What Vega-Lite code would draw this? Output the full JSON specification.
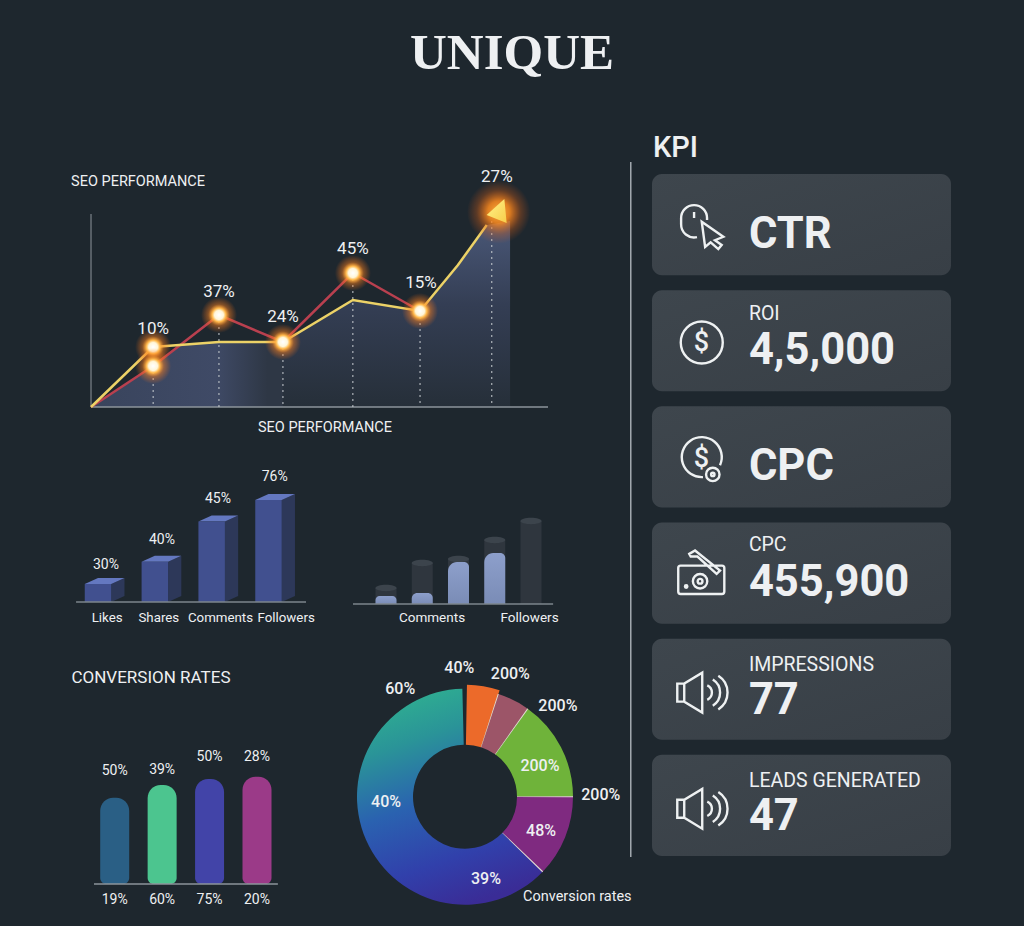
{"$schema":"https://vega.github.io/schema/vega-lite/v6.json","width":1024,"height":926,"padding":0,"autosize":{"type":"fit","contains":"padding"},"background":"#1e272e",
"config":{"view":{"stroke":null},"axis":{"disable":true},"scale":{"continuousPadding":0},"text":{"font":"Roboto","color":"#eef0f2","align":"center","baseline":"middle","dy":1}},
"datasets":{
"titleText":[{"text":"UNIQUE","x":50,"y":94.3}],
"seoArea":[{"x":0,"y":0,"part":"left"},{"x":13.6,"y":20.5,"part":"left"},{"x":19.8,"y":31,"part":"left"},{"x":28,"y":32.5,"part":"left"},{"x":42,"y":32.5,"part":"left"},{"x":42,"y":32.5,"part":"right"},{"x":57,"y":53.5,"part":"right"},{"x":72,"y":48,"part":"right"},{"x":80.3,"y":71,"part":"right"},{"x":86.6,"y":91,"part":"right"},{"x":91.7,"y":93,"part":"right"}],
"seoLines":[{"x":0,"y":0,"series":"red"},{"x":13.6,"y":20.5,"series":"red"},{"x":28,"y":46,"series":"red"},{"x":42,"y":32.5,"series":"red"},{"x":57.3,"y":67,"series":"red"},{"x":72,"y":48,"series":"red"},{"x":0,"y":0,"series":"yellow"},{"x":13.6,"y":30,"series":"yellow"},{"x":28,"y":32.5,"series":"yellow"},{"x":42,"y":32.5,"series":"yellow"},{"x":57.3,"y":53.5,"series":"yellow"},{"x":72,"y":48,"series":"yellow"},{"x":80.3,"y":71,"series":"yellow"},{"x":86.6,"y":91,"series":"yellow"}],
"seoDrops":[{"x":13.6,"y":20.5},{"x":28,"y":46},{"x":42,"y":32.5},{"x":57.3,"y":67},{"x":72,"y":48},{"x":87.7,"y":93}],
"seoMarkers":[{"x":13.6,"y":30},{"x":13.6,"y":20.5},{"x":28,"y":46},{"x":42,"y":32.5},{"x":57.3,"y":67},{"x":72,"y":48}],
"seoPeak":[{"x":89.2,"y":97.5}],
"seoLabels":[{"text":"10%","x":13.6,"y":39.5},{"text":"37%","x":28,"y":58},{"text":"24%","x":42,"y":45.5},{"text":"45%","x":57.3,"y":79.5},{"text":"15%","x":72.2,"y":62.7},{"text":"27%","x":88.8,"y":115.7}],
"seoTitles":[{"text":"SEO PERFORMANCE","x":10.3,"y":113},{"text":"SEO PERFORMANCE","x":51.2,"y":-10}],
"socialBars":[{"cat":"Likes","pos":0,"value":15},{"cat":"Shares","pos":1,"value":33.6},{"cat":"Comments","pos":2,"value":67},{"cat":"Followers","pos":3,"value":85}],
"socialPercents":[{"text":"30%","x":0.14,"y":31.7},{"text":"40%","x":1.126,"y":52.5},{"text":"45%","x":2.11,"y":87},{"text":"76%","x":3.11,"y":105}],
"socialNames":[{"text":"Likes","x":0.16,"y":-12.5},{"text":"Shares","x":1.07,"y":-12.5},{"text":"Comments","x":2.155,"y":-12.5},{"text":"Followers","x":3.31,"y":-12.5}],
"cylinders":[{"pos":0,"track":16,"fill":8},{"pos":1,"track":41,"fill":11},{"pos":2,"track":45,"fill":42},{"pos":3,"track":64,"fill":51},{"pos":4,"track":83,"fill":0}],
"cylinderLabels":[{"text":"Comments","x":1.27,"y":-13},{"text":"Followers","x":3.96,"y":-13}],
"conversionBars":[{"group":"A","pos":0,"value":57.5},{"group":"B","pos":1,"value":66},{"group":"C","pos":2,"value":70},{"group":"D","pos":3,"value":71.5}],
"conversionLabels":[{"text":"50%","x":0,"y":76},{"text":"39%","x":1,"y":76.9},{"text":"50%","x":2,"y":85.3},{"text":"28%","x":3,"y":85.3},{"text":"19%","x":0,"y":-10},{"text":"60%","x":1,"y":-10},{"text":"75%","x":2,"y":-10},{"text":"20%","x":3,"y":-10}],
"conversionTitle":[{"text":"CONVERSION RATES","x":0.765,"y":138}],
"donut":[{"slice":"mauve","from":18,"to":35.5},{"slice":"green","from":35.5,"to":90},{"slice":"purple","from":90,"to":134}],
"donutBlue":[{"slice":"blue","from":134,"to":358.6}],
"donutOrange":[{"slice":"orange","from":1,"to":18}],
"donutSeparators":[{"from":17.7,"to":18.2},{"from":35.2,"to":35.8},{"from":89.7,"to":90.3},{"from":133.7,"to":134.3}],
"donutLabels":[{"text":"40%","x":-0.053,"y":1.2},{"text":"200%","x":0.42,"y":1.149},{"text":"60%","x":-0.6,"y":1.01},{"text":"200%","x":0.86,"y":0.846},{"text":"200%","x":0.694,"y":0.293},{"text":"200%","x":1.257,"y":0.025},{"text":"48%","x":0.704,"y":-0.31},{"text":"40%","x":-0.731,"y":-0.037},{"text":"39%","x":0.194,"y":-0.751}],
"donutNote":[{"text":"Conversion rates","x":1.04,"y":-0.92}],
"kpiHeading":[{"text":"KPI","x":0.33,"y":102.15}],
"kpiDivider":[{"x":-7.1}],
"kpiCards":[{"card":1,"value":"CTR","icon":"mouse"},{"card":2,"name":"ROI","value":"4,5,000","icon":"dollar"},{"card":3,"value":"CPC","icon":"coin"},{"card":4,"name":"CPC","value":"455,900","icon":"money"},{"card":5,"name":"IMPRESSIONS","value":"77","icon":"speaker"},{"card":6,"name":"LEADS GENERATED","value":"47","icon":"speaker"}]
},
"resolve":{"scale":{"x":"independent","y":"independent","color":"independent"}},
"layer":[
{"data":{"name":"titleText"},"mark":{"type":"text","font":"Liberation Serif","fontWeight":"bold","fontSize":51},"encoding":{"x":{"field":"x","type":"quantitative","scale":{"domain":[0,100],"range":[0,1024]}},"y":{"field":"y","type":"quantitative","scale":{"domain":[0,100],"range":[926,0]}},"text":{"field":"text"}}},

{"layer":[
{"data":{"name":"seoArea"},"transform":[{"filter":"datum.part=='left'"}],"mark":{"type":"area","fill":{"gradient":"linear","x1":0,"y1":0,"x2":1,"y2":0,"stops":[{"offset":0,"color":"#39445c"},{"offset":0.65,"color":"#3f4a66"},{"offset":0.92,"color":"#2e3745"},{"offset":1,"color":"#2e3745"}]}},"encoding":{"x":{"field":"x","type":"quantitative","scale":{"domain":[0,100],"range":[91,548]}},"y":{"field":"y","type":"quantitative","stack":null,"scale":{"domain":[0,100],"range":[407,207]}}}},
{"data":{"name":"seoArea"},"transform":[{"filter":"datum.part=='right'"}],"mark":{"type":"area","fill":{"gradient":"linear","x1":0,"y1":0,"x2":0,"y2":1,"stops":[{"offset":0,"color":"#4a5878"},{"offset":0.45,"color":"#343e54"},{"offset":1,"color":"#262f39"}]}},"encoding":{"x":{"field":"x","type":"quantitative","scale":{"domain":[0,100],"range":[91,548]}},"y":{"field":"y","type":"quantitative","stack":null,"scale":{"domain":[0,100],"range":[407,207]}}}},
{"data":{"values":[{"axis":"x"}]},"mark":{"type":"rule","color":"#8d959b","strokeWidth":1.5},"encoding":{"x":{"datum":0,"type":"quantitative","scale":{"domain":[0,100],"range":[91,548]}},"x2":{"datum":100},"y":{"datum":0,"type":"quantitative","scale":{"domain":[0,100],"range":[407,207]}}}},
{"data":{"values":[{"axis":"y"}]},"mark":{"type":"rule","color":"#8d959b","strokeWidth":1},"encoding":{"x":{"datum":0,"type":"quantitative","scale":{"domain":[0,100],"range":[91,548]}},"y":{"datum":0,"type":"quantitative","scale":{"domain":[0,100],"range":[407,207]}},"y2":{"datum":96.5}}},
{"data":{"name":"seoDrops"},"mark":{"type":"rule","color":"#c9ced2","strokeWidth":1,"strokeDash":[2,4]},"encoding":{"x":{"field":"x","type":"quantitative","scale":{"domain":[0,100],"range":[91,548]}},"y":{"field":"y","type":"quantitative","scale":{"domain":[0,100],"range":[407,207]}},"y2":{"datum":0}}},
{"data":{"name":"seoLines"},"transform":[{"filter":"datum.series=='red'"}],"mark":{"type":"line","color":"#b9404f","strokeWidth":2.5},"encoding":{"x":{"field":"x","type":"quantitative","scale":{"domain":[0,100],"range":[91,548]}},"y":{"field":"y","type":"quantitative","scale":{"domain":[0,100],"range":[407,207]}}}},
{"data":{"name":"seoLines"},"transform":[{"filter":"datum.series=='yellow'"}],"mark":{"type":"line","color":"#ecd267","strokeWidth":2.5},"encoding":{"x":{"field":"x","type":"quantitative","scale":{"domain":[0,100],"range":[91,548]}},"y":{"field":"y","type":"quantitative","scale":{"domain":[0,100],"range":[407,207]}}}},
{"data":{"name":"seoPeak"},"mark":{"type":"point","filled":true,"shape":"circle","size":4000,"opacity":1,"strokeWidth":0,"fill":{"gradient":"radial","stops":[{"offset":0,"color":"#ffb040"},{"offset":0.35,"color":"rgba(255,140,30,0.85)"},{"offset":0.7,"color":"rgba(230,100,20,0.3)"},{"offset":1,"color":"rgba(230,90,20,0)"}]}},"encoding":{"x":{"field":"x","type":"quantitative","scale":{"domain":[0,100],"range":[91,548]}},"y":{"field":"y","type":"quantitative","scale":{"domain":[0,100],"range":[407,207]}}}},
{"data":{"name":"seoMarkers"},"mark":{"type":"point","filled":true,"shape":"circle","size":1296,"opacity":1,"strokeWidth":0,"fill":{"gradient":"radial","stops":[{"offset":0,"color":"#ffffff"},{"offset":0.25,"color":"#fff6d8"},{"offset":0.38,"color":"#ffb84a"},{"offset":0.6,"color":"rgba(255,130,30,0.45)"},{"offset":1,"color":"rgba(255,110,20,0)"}]}},"encoding":{"x":{"field":"x","type":"quantitative","scale":{"domain":[0,100],"range":[91,548]}},"y":{"field":"y","type":"quantitative","scale":{"domain":[0,100],"range":[407,207]}}}},
{"data":{"name":"seoPeak"},"mark":{"type":"point","filled":true,"size":1024,"opacity":1,"strokeWidth":0,"shape":"M0.356,-0.81L-0.75,0.19L0.5,0.69Z","fill":{"gradient":"linear","x1":0,"y1":0,"x2":1,"y2":1,"stops":[{"offset":0,"color":"#fff48a"},{"offset":1,"color":"#f8cc4a"}]}},"encoding":{"x":{"field":"x","type":"quantitative","scale":{"domain":[0,100],"range":[91,548]}},"y":{"field":"y","type":"quantitative","scale":{"domain":[0,100],"range":[407,207]}}}},
{"data":{"name":"seoLabels"},"mark":{"type":"text","fontSize":17},"encoding":{"x":{"field":"x","type":"quantitative","scale":{"domain":[0,100],"range":[91,548]}},"y":{"field":"y","type":"quantitative","scale":{"domain":[0,100],"range":[407,207]}},"text":{"field":"text"}}},
{"data":{"name":"seoTitles"},"mark":{"type":"text","fontSize":14.5},"encoding":{"x":{"field":"x","type":"quantitative","scale":{"domain":[0,100],"range":[91,548]}},"y":{"field":"y","type":"quantitative","scale":{"domain":[0,100],"range":[407,207]}},"text":{"field":"text"}}}
]},

{"layer":[
{"data":{"name":"socialBars"},"transform":[{"calculate":"[0,1]","as":"k"},{"flatten":["k"]},{"calculate":"datum.pos+0.233+datum.k*0.233","as":"sx"},{"calculate":"datum.value+datum.k*5","as":"sy"},{"calculate":"datum.k*5","as":"sy2"}],"mark":{"type":"area","color":"#2d3859"},"encoding":{"detail":{"field":"cat"},"x":{"field":"sx","type":"quantitative","scale":{"domain":[0,3],"range":[98,268.5]}},"y":{"field":"sy","type":"quantitative","stack":null,"scale":{"domain":[0,100],"range":[602,482]}},"y2":{"field":"sy2"}}},
{"data":{"name":"socialBars"},"transform":[{"calculate":"[0,1]","as":"k"},{"flatten":["k"]},{"calculate":"datum.pos-0.233+datum.k*0.233","as":"tx"},{"calculate":"datum.pos+0.233+datum.k*0.233","as":"tx2"},{"calculate":"datum.value+datum.k*5","as":"ty"}],"mark":{"type":"area","orient":"horizontal","color":"#6478c0"},"encoding":{"detail":{"field":"cat"},"y":{"field":"ty","type":"quantitative","scale":{"domain":[0,100],"range":[602,482]}},"x":{"field":"tx","type":"quantitative","stack":null,"scale":{"domain":[0,3],"range":[98,268.5]}},"x2":{"field":"tx2"}}},
{"data":{"name":"socialBars"},"mark":{"type":"bar","orient":"vertical","width":26.5,"color":"#41508f"},"encoding":{"x":{"field":"pos","type":"quantitative","scale":{"domain":[0,3],"range":[98,268.5]}},"y":{"field":"value","type":"quantitative","scale":{"domain":[0,100],"range":[602,482]}},"y2":{"datum":0}}},
{"data":{"values":[{"axis":"x"}]},"mark":{"type":"rule","color":"#7d868c","strokeWidth":1.5},"encoding":{"x":{"datum":-0.386,"type":"quantitative","scale":{"domain":[0,3],"range":[98,268.5]}},"x2":{"datum":3.66},"y":{"datum":0,"type":"quantitative","scale":{"domain":[0,100],"range":[602,482]}}}},
{"data":{"name":"socialPercents"},"mark":{"type":"text","fontSize":14},"encoding":{"x":{"field":"x","type":"quantitative","scale":{"domain":[0,3],"range":[98,268.5]}},"y":{"field":"y","type":"quantitative","scale":{"domain":[0,100],"range":[602,482]}},"text":{"field":"text"}}},
{"data":{"name":"socialNames"},"mark":{"type":"text","fontSize":13.3},"encoding":{"x":{"field":"x","type":"quantitative","scale":{"domain":[0,3],"range":[98,268.5]}},"y":{"field":"y","type":"quantitative","scale":{"domain":[0,100],"range":[602,482]}},"text":{"field":"text"}}}
]},

{"layer":[
{"data":{"name":"cylinders"},"mark":{"type":"bar","orient":"vertical","width":21,"color":"#2f363e"},"encoding":{"x":{"field":"pos","type":"quantitative","scale":{"domain":[0,4],"range":[386,531]}},"y":{"field":"track","type":"quantitative","scale":{"domain":[0,100],"range":[604,504]}},"y2":{"datum":0}}},
{"data":{"name":"cylinders"},"mark":{"type":"point","filled":true,"size":441,"opacity":1,"strokeWidth":0,"color":"#3c444c","shape":"M-1,0A1,0.3 0 1 1 1,0A1,0.3 0 1 1 -1,0Z"},"encoding":{"x":{"field":"pos","type":"quantitative","scale":{"domain":[0,4],"range":[386,531]}},"y":{"field":"track","type":"quantitative","scale":{"domain":[0,100],"range":[604,504]}}}},
{"data":{"name":"cylinders"},"transform":[{"filter":"datum.fill>0"}],"mark":{"type":"bar","orient":"vertical","width":21,"cornerRadiusTopLeft":9,"cornerRadiusTopRight":5,"fill":{"gradient":"linear","x1":0,"y1":0,"x2":0,"y2":1,"stops":[{"offset":0,"color":"#8d9fcb"},{"offset":1,"color":"#7a8cb6"}]}},"encoding":{"x":{"field":"pos","type":"quantitative","scale":{"domain":[0,4],"range":[386,531]}},"y":{"field":"fill","type":"quantitative","scale":{"domain":[0,100],"range":[604,504]}},"y2":{"datum":0}}},
{"data":{"values":[{"axis":"x"}]},"mark":{"type":"rule","color":"#7d868c","strokeWidth":1.5},"encoding":{"x":{"datum":-0.91,"type":"quantitative","scale":{"domain":[0,4],"range":[386,531]}},"x2":{"datum":4.61},"y":{"datum":0,"type":"quantitative","scale":{"domain":[0,100],"range":[604,504]}}}},
{"data":{"name":"cylinderLabels"},"mark":{"type":"text","fontSize":13.5},"encoding":{"x":{"field":"x","type":"quantitative","scale":{"domain":[0,4],"range":[386,531]}},"y":{"field":"y","type":"quantitative","scale":{"domain":[0,100],"range":[604,504]}},"text":{"field":"text"}}}
]},

{"layer":[
{"data":{"name":"conversionBars"},"mark":{"type":"bar","orient":"vertical","width":29,"cornerRadiusTopLeft":13,"cornerRadiusTopRight":13,"cornerRadiusBottomLeft":6,"cornerRadiusBottomRight":6},"encoding":{"x":{"field":"pos","type":"quantitative","scale":{"domain":[0,3],"range":[114.7,257]}},"y":{"field":"value","type":"quantitative","scale":{"domain":[0,100],"range":[884,734]}},"y2":{"datum":0},"color":{"field":"group","type":"nominal","legend":null,"scale":{"domain":["A","B","C","D"],"range":["#2a5f85","#4cc58f","#4244a8","#9b3a88"]}}}},
{"data":{"values":[{"axis":"x"}]},"mark":{"type":"rule","color":"#8d959b","strokeWidth":1.5},"encoding":{"x":{"datum":-0.436,"type":"quantitative","scale":{"domain":[0,3],"range":[114.7,257]}},"x2":{"datum":3.44},"y":{"datum":0,"type":"quantitative","scale":{"domain":[0,100],"range":[884,734]}}}},
{"data":{"name":"conversionLabels"},"mark":{"type":"text","fontSize":14},"encoding":{"x":{"field":"x","type":"quantitative","scale":{"domain":[0,3],"range":[114.7,257]}},"y":{"field":"y","type":"quantitative","scale":{"domain":[0,100],"range":[884,734]}},"text":{"field":"text"}}},
{"data":{"name":"conversionTitle"},"mark":{"type":"text","fontSize":17},"encoding":{"x":{"field":"x","type":"quantitative","scale":{"domain":[0,3],"range":[114.7,257]}},"y":{"field":"y","type":"quantitative","scale":{"domain":[0,100],"range":[884,734]}},"text":{"field":"text"}}}
]},

{"layer":[
{"data":{"name":"donutBlue"},"mark":{"type":"arc","radius":108,"radius2":52,"fill":{"gradient":"linear","x1":0.3,"y1":0,"x2":0.6,"y2":1,"stops":[{"offset":0,"color":"#2fb090"},{"offset":0.22,"color":"#2a9498"},{"offset":0.5,"color":"#2a62b0"},{"offset":0.78,"color":"#3140ab"},{"offset":1,"color":"#3a2c96"}]}},"encoding":{"x":{"datum":0,"type":"quantitative","scale":{"domain":[-1,1],"range":[357,573]}},"y":{"datum":0,"type":"quantitative","scale":{"domain":[-1,1],"range":[904.7,688.7]}},"theta":{"field":"from","type":"quantitative","stack":null,"scale":{"domain":[0,360],"range":[0,6.28319]}},"theta2":{"field":"to"}}},
{"data":{"name":"donut"},"mark":{"type":"arc","radius":108,"radius2":52},"encoding":{"x":{"datum":0,"type":"quantitative","scale":{"domain":[-1,1],"range":[357,573]}},"y":{"datum":0,"type":"quantitative","scale":{"domain":[-1,1],"range":[904.7,688.7]}},"theta":{"field":"from","type":"quantitative","stack":null,"scale":{"domain":[0,360],"range":[0,6.28319]}},"theta2":{"field":"to"},"color":{"field":"slice","type":"nominal","legend":null,"scale":{"domain":["mauve","green","purple"],"range":["#9c5568","#6fb33a","#7f2a80"]}}}},
{"data":{"name":"donutOrange"},"mark":{"type":"arc","radius":112,"radius2":52,"color":"#ec6a2a"},"encoding":{"x":{"datum":0,"type":"quantitative","scale":{"domain":[-1,1],"range":[357,573]}},"y":{"datum":0,"type":"quantitative","scale":{"domain":[-1,1],"range":[904.7,688.7]}},"theta":{"field":"from","type":"quantitative","stack":null,"scale":{"domain":[0,360],"range":[0,6.28319]}},"theta2":{"field":"to"}}},
{"data":{"name":"donutSeparators"},"mark":{"type":"arc","radius":108,"radius2":52,"color":"#e6dfd6"},"encoding":{"x":{"datum":0,"type":"quantitative","scale":{"domain":[-1,1],"range":[357,573]}},"y":{"datum":0,"type":"quantitative","scale":{"domain":[-1,1],"range":[904.7,688.7]}},"theta":{"field":"from","type":"quantitative","stack":null,"scale":{"domain":[0,360],"range":[0,6.28319]}},"theta2":{"field":"to"}}},
{"data":{"name":"donutLabels"},"mark":{"type":"text","fontSize":16,"fontWeight":500},"encoding":{"x":{"field":"x","type":"quantitative","scale":{"domain":[-1,1],"range":[357,573]}},"y":{"field":"y","type":"quantitative","scale":{"domain":[-1,1],"range":[904.7,688.7]}},"text":{"field":"text"}}},
{"data":{"name":"donutNote"},"mark":{"type":"text","fontSize":14.5},"encoding":{"x":{"field":"x","type":"quantitative","scale":{"domain":[-1,1],"range":[357,573]}},"y":{"field":"y","type":"quantitative","scale":{"domain":[-1,1],"range":[904.7,688.7]}},"text":{"field":"text"}}}
]},

{"layer":[
{"data":{"name":"kpiDivider"},"mark":{"type":"rule","color":"#a4abb0","strokeWidth":1.5},"encoding":{"x":{"field":"x","type":"quantitative","scale":{"domain":[0,100],"range":[652,951]}},"y":{"datum":0,"type":"quantitative","scale":{"domain":[0,100],"range":[857,162]}},"y2":{"datum":100}}},
{"data":{"name":"kpiHeading"},"mark":{"type":"text","fontSize":29,"fontWeight":500,"align":"left"},"encoding":{"x":{"field":"x","type":"quantitative","scale":{"domain":[0,100],"range":[652,951]}},"y":{"field":"y","type":"quantitative","scale":{"domain":[0,100],"range":[857,162]}},"text":{"field":"text"}}}
]},

{"layer":[
{"data":{"name":"kpiCards"},"mark":{"type":"rect","cornerRadius":10,"fill":{"gradient":"linear","x1":0,"y1":0,"x2":1,"y2":1,"stops":[{"offset":0,"color":"#3e464d"},{"offset":1,"color":"#383f46"}]}},"encoding":{"x":{"datum":0,"type":"quantitative","scale":{"domain":[0,100],"range":[652,951]}},"x2":{"datum":100},"y":{"field":"card","type":"ordinal","scale":{"type":"band","domain":[1,2,3,4,5,6],"range":[174,856],"paddingInner":0.129,"paddingOuter":0}}}},
{"data":{"name":"kpiCards"},"mark":{"type":"point","filled":false,"size":2304,"opacity":1,"stroke":"#eef1f2","strokeWidth":2.4},"encoding":{"x":{"datum":16.4,"type":"quantitative","scale":{"domain":[0,100],"range":[652,951]}},"y":{"field":"card","type":"ordinal","scale":{"type":"band","domain":[1,2,3,4,5,6],"range":[174,856],"paddingInner":0.129,"paddingOuter":0}},"shape":{"field":"icon","type":"nominal","legend":null,"scale":{"domain":["mouse","dollar","coin","money","speaker"],"range":["M0.25,-0.19V-0.27A0.54,0.54 0 0 0 -0.83,-0.27V-0.02A0.54,0.54 0 0 0 -0.17,0.52M-0.29,-0.52V-0.27M0.03,-0.12L0.93,0.51L0.58,0.65L0.86,0.85L0.72,1.02L0.4,0.74L0.17,0.93Z","M-0.845,0.075A0.875,0.875 0 1 1 0.905,0.075A0.875,0.875 0 1 1 -0.845,0.075Z","M0.79,0.35A0.833,0.833 0 1 0 0.08,0.84M0.21,0.73A0.28,0.28 0 1 1 0.77,0.73A0.28,0.28 0 1 1 0.21,0.73ZM0.42,0.73A0.07,0.07 0 1 1 0.56,0.73A0.07,0.07 0 1 1 0.42,0.73Z","M-0.85,-0.31H0.87Q0.97,-0.31 0.97,-0.21V0.77Q0.97,0.87 0.87,0.87H-0.85Q-0.95,0.87 -0.95,0.77V-0.21Q-0.95,-0.31 -0.85,-0.31ZM-0.49,-0.8L-0.25,-0.94L0.79,-0.1L0.65,0.03L-0.15,-0.69L-0.43,-0.69ZM-0.34,0.34A0.3,0.3 0 1 1 0.26,0.34A0.3,0.3 0 1 1 -0.34,0.34ZM-0.14,0.34A0.1,0.1 0 1 1 0.06,0.34A0.1,0.1 0 1 1 -0.14,0.34ZM-0.67,0.56A0.05,0.05 0 1 1 -0.57,0.56A0.05,0.05 0 1 1 -0.67,0.56Z","M-0.99,-0.235H-0.7L0.05,-0.69V0.97L-0.7,0.515H-0.99ZM-0.7,-0.235V0.515M0.26,-0.16A0.33,0.33 0 0 1 0.26,0.44M0.49,-0.41A0.65,0.65 0 0 1 0.49,0.69M0.72,-0.56A0.83,0.83 0 0 1 0.72,0.84"]}}}},
{"data":{"name":"kpiCards"},"transform":[{"filter":"datum.card==2||datum.card==3"}],"mark":{"type":"text","fontSize":27,"fontWeight":500,"yOffset":1},"encoding":{"x":{"datum":16.5,"type":"quantitative","scale":{"domain":[0,100],"range":[652,951]}},"y":{"field":"card","type":"ordinal","scale":{"type":"band","domain":[1,2,3,4,5,6],"range":[174,856],"paddingInner":0.129,"paddingOuter":0}},"text":{"value":"$"}}},
{"data":{"name":"kpiCards"},"transform":[{"filter":"datum.card<=4"}],"mark":{"type":"text","fontSize":43.5,"fontWeight":"bold","align":"left","yOffset":9},"encoding":{"x":{"datum":32.4,"type":"quantitative","scale":{"domain":[0,100],"range":[652,951]}},"y":{"field":"card","type":"ordinal","scale":{"type":"band","domain":[1,2,3,4,5,6],"range":[174,856],"paddingInner":0.129,"paddingOuter":0}},"text":{"field":"value"}}},
{"data":{"name":"kpiCards"},"transform":[{"filter":"datum.card>4"}],"mark":{"type":"text","fontSize":43.5,"fontWeight":"bold","align":"left","yOffset":10.5},"encoding":{"x":{"datum":32.4,"type":"quantitative","scale":{"domain":[0,100],"range":[652,951]}},"y":{"field":"card","type":"ordinal","scale":{"type":"band","domain":[1,2,3,4,5,6],"range":[174,856],"paddingInner":0.129,"paddingOuter":0}},"text":{"field":"value"}}},
{"data":{"name":"kpiCards"},"transform":[{"filter":"datum.card==2"}],"mark":{"type":"text","fontSize":19.5,"align":"left","yOffset":-28},"encoding":{"x":{"datum":32.4,"type":"quantitative","scale":{"domain":[0,100],"range":[652,951]}},"y":{"field":"card","type":"ordinal","scale":{"type":"band","domain":[1,2,3,4,5,6],"range":[174,856],"paddingInner":0.129,"paddingOuter":0}},"text":{"field":"name"}}},
{"data":{"name":"kpiCards"},"transform":[{"filter":"datum.card==4"}],"mark":{"type":"text","fontSize":19.5,"align":"left","yOffset":-29},"encoding":{"x":{"datum":32.4,"type":"quantitative","scale":{"domain":[0,100],"range":[652,951]}},"y":{"field":"card","type":"ordinal","scale":{"type":"band","domain":[1,2,3,4,5,6],"range":[174,856],"paddingInner":0.129,"paddingOuter":0}},"text":{"field":"name"}}},
{"data":{"name":"kpiCards"},"transform":[{"filter":"datum.card>4"}],"mark":{"type":"text","fontSize":19.5,"align":"left","yOffset":-25.5},"encoding":{"x":{"datum":32.4,"type":"quantitative","scale":{"domain":[0,100],"range":[652,951]}},"y":{"field":"card","type":"ordinal","scale":{"type":"band","domain":[1,2,3,4,5,6],"range":[174,856],"paddingInner":0.129,"paddingOuter":0}},"text":{"field":"name"}}}
]}
]}
